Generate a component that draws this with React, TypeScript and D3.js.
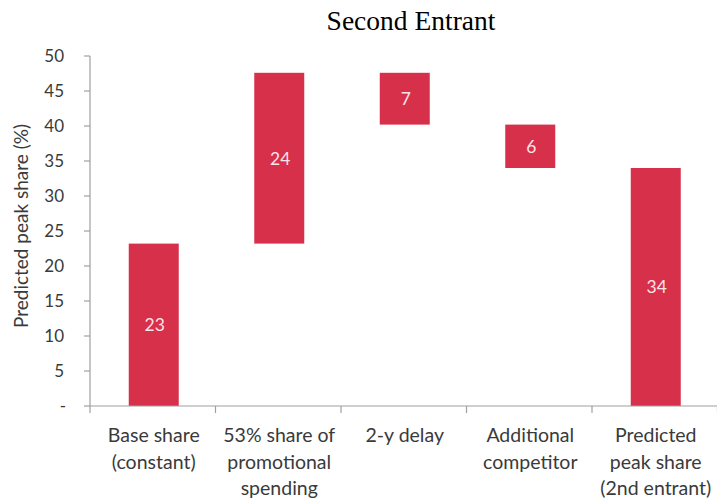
import React from "react";
import * as d3 from "d3";

// Waterfall steps of predicted peak share for the second entrant
const categories: string[][] = [
  ["Base share", "(constant)"],
  ["53% share of", "promotional", "spending"],
  ["2-y delay"],
  ["Additional", "competitor"],
  ["Predicted", "peak share", "(2nd entrant)"],
];
// change contributed by each step; the last entry is the resulting total
const deltas: number[] = [23.2, 24.4, -7.4, -6.2];
const finalShare = 34.0;
const yTicks: number[] = [0, 5, 10, 15, 20, 25, 30, 35, 40, 45, 50];

const W = 717;
const H = 501;
const BAR = "#d7304a";
const TEXT = "#3a3a3a";
const AXIS = "#a0a0a0";
const SANS = "Lato, 'Open Sans', sans-serif";

export default function App() {
  const keys = categories.map((c) => c.join(" "));
  const x = d3.scaleBand<string>().domain(keys).range([90, 717.5]).padding(0);
  const y = d3.scaleLinear().domain([0, 50]).range([406, 56]);

  // running totals -> floating segments
  const segs: { key: string; lo: number; hi: number; value: number }[] = [];
  let acc = 0;
  deltas.forEach((d, i) => {
    const next = acc + d;
    segs.push({ key: keys[i], lo: Math.min(acc, next), hi: Math.max(acc, next), value: d });
    acc = next;
  });
  segs.push({ key: keys[keys.length - 1], lo: 0, hi: finalShare, value: finalShare });

  const fmt = d3.format(".0f");
  const barW = 50;
  const bw = x.bandwidth();
  const edges = keys.map((k) => x(k) as number).concat([x.range()[1]]);

  return (
    <svg
      width={W}
      height={H}
      style={{ position: "absolute", left: 0, top: 0, background: "#fff" }}
    >
      <text
        x={411}
        y={30}
        textAnchor="middle"
        fontFamily="'Liberation Serif', 'Times New Roman', serif"
        fontSize={27.5}
        fill="#000"
      >
        Second Entrant
      </text>

      {/* y axis */}
      <line x1={90} x2={90} y1={y(50)} y2={y(0)} stroke={AXIS} strokeWidth={1.2} />
      {yTicks.map((t) => (
        <g key={t}>
          <line x1={84} x2={90} y1={y(t)} y2={y(t)} stroke={AXIS} strokeWidth={1.2} />
          <text
            x={t === 0 ? 66 : 64}
            y={y(t)}
            dy="0.36em"
            textAnchor="end"
            fontFamily={SANS}
            fontSize={17}
            fill={TEXT}
          >
            {t === 0 ? "-" : t}
          </text>
        </g>
      ))}
      <text
        transform={`translate(21,226) rotate(-90)`}
        textAnchor="middle"
        dy="0.35em"
        fontFamily={SANS}
        fontSize={19}
        fill={TEXT}
      >
        Predicted peak share (%)
      </text>

      {/* bars */}
      {segs.map((s) => {
        const cx = (x(s.key) as number) + bw / 2 + 1;
        return (
          <g key={s.key}>
            <rect
              x={cx - barW / 2}
              width={barW}
              y={y(s.hi)}
              height={y(s.lo) - y(s.hi)}
              fill={BAR}
            />
            <text
              x={cx + 1}
              y={(y(s.hi) + y(s.lo)) / 2}
              dy="0.36em"
              textAnchor="middle"
              fontFamily={SANS}
              fontSize={17.5}
              fill="#fbe4e8"
            >
              {fmt(Math.abs(s.value))}
            </text>
          </g>
        );
      })}

      {/* x axis */}
      <line x1={90} x2={717} y1={y(0)} y2={y(0)} stroke={AXIS} strokeWidth={1.2} />
      {edges.map((e, i) => (
        <line key={i} x1={e} x2={e} y1={y(0)} y2={y(0) + 7} stroke={AXIS} strokeWidth={1.2} />
      ))}
      {categories.map((lines, i) => {
        const cx = (x(keys[i]) as number) + bw / 2 + 1;
        return (
          <text
            key={keys[i]}
            x={cx}
            y={442}
            textAnchor="middle"
            fontFamily={SANS}
            fontSize={19.5}
            fill={TEXT}
          >
            {lines.map((ln, j) => (
              <tspan key={j} x={cx} y={442 + j * 26.5}>
                {ln}
              </tspan>
            ))}
          </text>
        );
      })}
    </svg>
  );
}
